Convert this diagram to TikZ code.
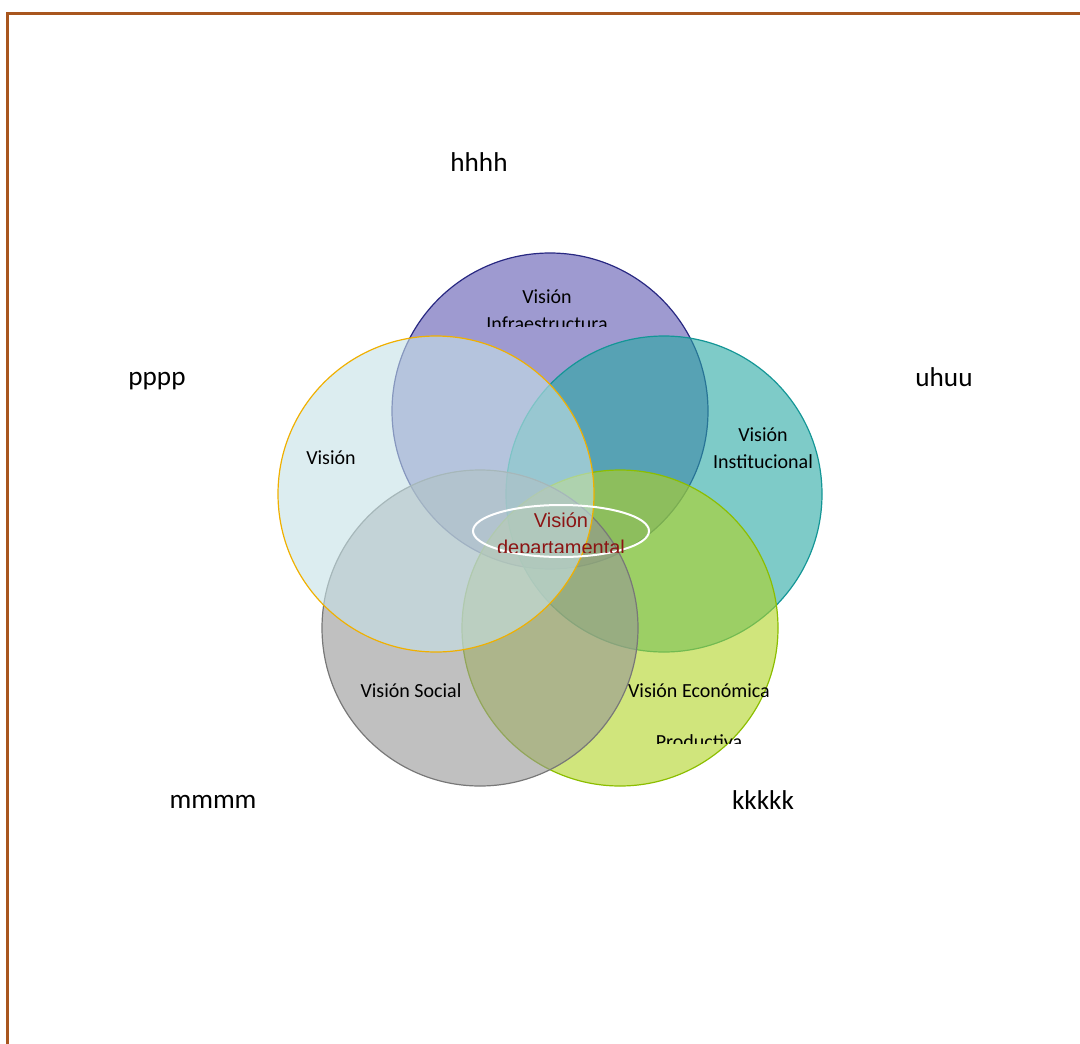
\documentclass[tikz,border=0pt]{standalone}
\usepackage{fontspec}
\setmainfont{Carlito}
\newfontfamily\arialfont{Liberation Sans}
\usepackage{tikz}
\usetikzlibrary{shapes.geometric}
\definecolor{framebrown}{HTML}{A8561E}
\definecolor{infrafill}{RGB}{93,87,177}
\definecolor{infraline}{RGB}{40,40,130}
\definecolor{instfill}{RGB}{40,168,163}
\definecolor{instline}{RGB}{20,150,150}
\definecolor{ecofill}{RGB}{177,211,36}
\definecolor{ecoline}{RGB}{140,190,0}
\definecolor{socfill}{RGB}{150,150,150}
\definecolor{socline}{RGB}{120,120,120}
\definecolor{leftfill}{RGB}{197,225,230}
\definecolor{leftline}{RGB}{240,176,0}
\definecolor{deptred}{RGB}{140,20,20}

\begin{document}
\begin{tikzpicture}[
    x=0.5pt, y=-0.5pt,
    vcircle/.style={circle, minimum size=158pt, inner sep=0pt, line width=0.6pt, fill opacity=0.6},
    vtext/.style={font=\fontsize{10}{13.5}\selectfont, align=center, inner sep=0pt},
    outlabel/.style={font=\fontsize{13.6}{16}\selectfont, inner sep=0pt}
]
\useasboundingbox (0,0) rectangle (1080,1043);
% frame
\draw[framebrown, line width=1.5pt] (7,1060) -- (7,14) -- (1100,14);

% the five circles
\node[vcircle, fill=infrafill, draw=infraline] (infra) at (550,411) {};
\node[vcircle, fill=instfill, draw=instline] (inst) at (664,494) {};
\node[vcircle, fill=ecofill, draw=ecoline] (eco) at (620,628) {};
\node[vcircle, fill=socfill, draw=socline] (soc) at (480,628) {};
\node[vcircle, fill=leftfill, draw=leftline] (left) at (436,494) {};

% centre ring
\node[ellipse, draw=white, line width=1pt, minimum width=88pt, minimum height=26pt] (ring) at (561,531) {};

% circle texts
\begin{scope}
  \clip (380,250) rectangle (720,326);
  \node[vtext] (infratxt) at (547,310) {Visión\\Infraestructura};
\end{scope}
\node[vtext] (insttxt) at (763,448) {Visión\\Institucional};
\node[vtext] (lefttxt) at (331,458) {Visión};
\node[vtext] (soctxt) at (411,691) {Visión Social};
\begin{scope}
  \clip (600,660) rectangle (800,743);
  \node[vtext] (ecotxt) at (699,691) {Visión Económica};
  \node[vtext] (prodtxt) at (699,742) {Productiva};
\end{scope}
\begin{scope}
  \clip (470,500) rectangle (660,552);
  \node[vtext, font=\arialfont\fontsize{10}{13.5}\selectfont, text=deptred] (depttxt) at (561,536) {Visión\\departamental};
\end{scope}

% outer labels
\node[outlabel] (hlab) at (479,162) {hhhh};
\node[outlabel] (plab) at (157,381) {pppp};
\node[outlabel] (ulab) at (944,377) {uhuu};
\node[outlabel] (mlab) at (213,802) {mmmm};
\node[outlabel] (klab) at (763,800) {kkkkk};
\end{tikzpicture}
\end{document}
